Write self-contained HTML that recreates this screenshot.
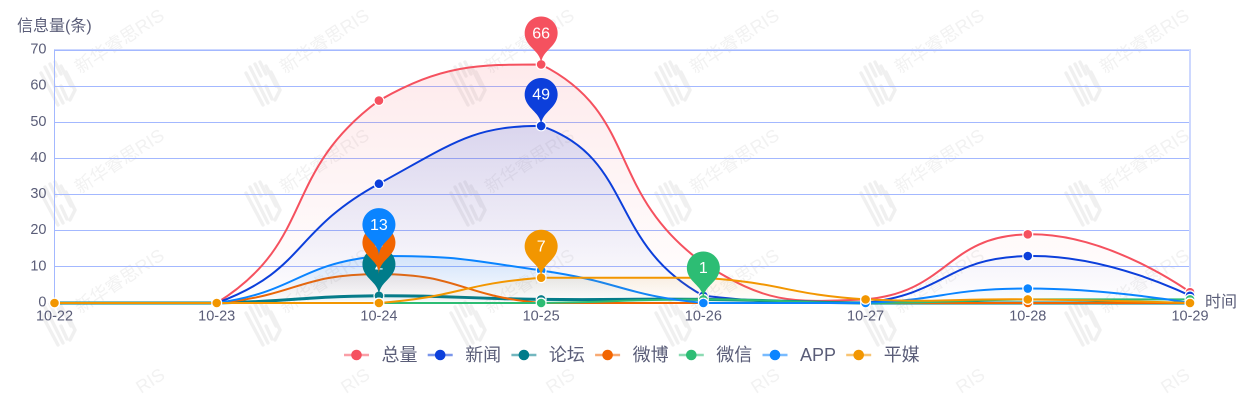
<!DOCTYPE html>
<html lang="zh">
<head>
<meta charset="utf-8">
<title>信息量趋势图</title>
<style>
html,body{margin:0;padding:0;background:#fff;width:1260px;height:400px;overflow:hidden}
svg{display:block}
text{font-family:"Liberation Sans","Noto Sans CJK SC",sans-serif}
</style>
</head>
<body>
<svg id="chart" xmlns="http://www.w3.org/2000/svg" width="1260" height="400" viewBox="0 0 1260 400">
  <defs>
    <g id="wm-logo">
      <g fill="none" stroke="#f0f0f0" stroke-width="3.4" stroke-linecap="round">
        <path d="M41 73 L58 105"/>
        <path d="M45 67 L63 103"/>
        <path d="M50 64 L56 76 M61 86 L67 99"/>
        <path d="M55 62 L61 74"/>
        <path d="M61 66 L71 86"/>
        <path d="M66 72 L75 90 L70 100"/>
      </g>
    </g>
  </defs>
  <g id="watermarks"></g>
  <g id="grid"></g>
  <g id="axes"></g>
  <g id="series"></g>
  <g id="pins"></g>
  <g id="legend"></g>
  <text x="17" y="31" font-size="16" fill="#5a5d78">信息量(条)</text>
  <text x="1205" y="307" font-size="16" fill="#5a5d78">时间</text>
</svg>
<script>
var categories = ['10-22','10-23','10-24','10-25','10-26','10-27','10-28','10-29'];
var yTicks = [0,10,20,30,40,50,60,70];
var seriesNames = ['总量','新闻','论坛','微博','微信','APP','平媒'];
var seriesKeys = ['total','news','forum','weibo','wechat','app','print'];
var seriesColors = ['#f5515f','#0c3fdb','#007c8a','#f26500','#2dbd74','#0a84ff','#f29600'];
var totalValues  = [0,0,56,66,11,1,19,3];
var newsValues   = [0,0,33,49,2,0,13,2];
var forumValues  = [0,0,2,1,1,0,0,0];
var weiboValues  = [0,0,8,0,0,0,0,0];
var wechatValues = [0,0,0,0,1,0,1,1];
var appValues    = [0,0,13,9,0,0,4,0];
var printValues  = [0,0,0,7,7,1,1,0];
var allValues = [totalValues,newsValues,forumValues,weiboValues,wechatValues,appValues,printValues];

var NS = 'http://www.w3.org/2000/svg';
var plotLeft = 54.5, plotRight = 1190, plotTop = 50, plotBottom = 303, yMax = 70;
var textColor = '#5a5d78';

function xScale(i){ return plotLeft + i * (plotRight - plotLeft) / (categories.length - 1); }
function yScale(v){ return plotBottom - v * (plotBottom - plotTop) / yMax; }
function make(tag, attrs, parent){
  var el = document.createElementNS(NS, tag);
  for (var k in attrs) el.setAttribute(k, attrs[k]);
  parent.appendChild(el);
  return el;
}
function maxIndex(arr){
  var m = 0;
  for (var i = 1; i < arr.length; i++) if (arr[i] > arr[m]) m = i;
  return m;
}
function smoothPath(pts){
  var s = 0.5;
  var ys = pts.map(function(p){ return p[1]; });
  var minY = Math.min.apply(null, ys), maxY = Math.max.apply(null, ys);
  var minX = pts[0][0], maxX = pts[pts.length-1][0];
  function cx(v){ return Math.max(minX, Math.min(maxX, v)); }
  function cy(v){ return Math.max(minY, Math.min(maxY, v)); }
  var d = 'M' + pts[0][0] + ' ' + pts[0][1];
  var c1 = [pts[0][0], pts[0][1]];
  for (var i = 1; i < pts.length; i++){
    var p = pts[i], c0, vx = 0, vy = 0, r = 0.5;
    if (i === pts.length - 1){ c0 = [p[0], p[1]]; }
    else {
      var a = pts[i-1], b = pts[i+1];
      vx = b[0]-a[0]; vy = b[1]-a[1];
      var lp = Math.hypot(p[0]-a[0], p[1]-a[1]), ln = Math.hypot(b[0]-p[0], b[1]-p[1]);
      r = ln / (ln + lp);
      c0 = [p[0] - vx*s*(1-r), p[1] - vy*s*(1-r)];
    }
    d += 'C' + cx(c1[0]) + ' ' + cy(c1[1]) + ' ' + cx(c0[0]) + ' ' + cy(c0[1]) + ' ' + p[0] + ' ' + p[1];
    c1 = [p[0] + vx*s*r, p[1] + vy*s*r];
  }
  return d;
}
function pinPath(x, y){
  var size = 55, w = size/5*3, h = size, r = w/2;
  var dy = r*r/(h-r), cy = y-h+r+dy, a = Math.asin(dy/r);
  var dx = Math.cos(a)*r, tx = Math.sin(a), ty = Math.cos(a), c1 = r*0.6, c2 = r*0.7;
  return 'M'+(x-dx)+' '+(cy+dy)+
    'A'+r+' '+r+' 0 1 1 '+(x+dx)+' '+(cy+dy)+
    'C'+(x+dx-tx*c1)+' '+(cy+dy+ty*c1)+' '+x+' '+(y-c2)+' '+x+' '+y+
    'C'+x+' '+(y-c2)+' '+(x-dx+tx*c1)+' '+(cy+dy+ty*c1)+' '+(x-dx)+' '+(cy+dy)+'Z';
}

/* watermark tiles */
var wmLayer = document.getElementById('watermarks');
for (var row = 0; row < 3; row++){
  for (var col = 0; col < 7; col++){
    var tx = col*205, ty = row*120;
    var tile = make('g', {transform:'translate('+tx+' '+ty+')'}, wmLayer);
    
    
    make('use', {href:'#wm-logo'}, tile);
    var wt = make('text', {transform:'translate(80 74) rotate(-33)', 'font-size':'18', fill:'#f2f2f2'}, tile);
    wt.textContent = '新华睿思RIS';
  }
}
for (var c2 = 0; c2 < 6; c2++){
  var tail = make('text', {transform:'translate(' + (141 + c2*205) + ' 394) rotate(-33)', 'font-size':'18', fill:'#f2f2f2'}, wmLayer);
  
  
  tail.textContent = 'RIS';
}

/* grid and y axis labels */
var gridLayer = document.getElementById('grid');
var axesLayer = document.getElementById('axes');
yTicks.forEach(function(v){
  var y = Math.floor(yScale(v)) + 0.5;
  var line = make('line', {x1:plotLeft, x2:plotRight, y1:y, y2:y, stroke:'#a3b8ff', 'stroke-width':1}, gridLayer);
  
  
  var lab = make('text', {x:46.5, y:yScale(v)-0.5, 'text-anchor':'end', 'dominant-baseline':'central', 'font-size':'14.5', fill:textColor}, axesLayer);
  
  
  lab.textContent = v;
});
var borderTop = make('line', {x1:plotLeft, x2:plotRight+1, y1:49.5, y2:49.5, stroke:'#cdd8ff', 'stroke-width':1}, gridLayer);


var borderRight = make('line', {x1:plotRight, x2:plotRight, y1:49, y2:plotBottom, stroke:'#cdd8ff', 'stroke-width':2}, gridLayer);


var axisLeft = make('line', {x1:plotLeft, x2:plotLeft, y1:49.5, y2:plotBottom, stroke:'#a3b8ff', 'stroke-width':1}, axesLayer);



categories.forEach(function(c, i){
  var lab = make('text', {x:xScale(i), y:316.5, 'text-anchor':'middle', 'dominant-baseline':'central', 'font-size':'14.5', fill:textColor}, axesLayer);
  
  
  lab.textContent = c;
});

/* series */
var defs = document.querySelector('defs');
var seriesLayer = document.getElementById('series');
var areaAlpha = [0.12,0.15,0.1,0.1,0.1,0.15,0.1];
var lineWidths = [2,2,3,2,2,2,2];
allValues.forEach(function(vals, s){
  var color = seriesColors[s], key = seriesKeys[s];
  var g = make('g', {}, seriesLayer);
  
  
  var gid = 'grad-' + key;
  var grad = make('linearGradient', {id:gid, gradientUnits:'userSpaceOnUse', x1:0, x2:0, y1:yScale(Math.max.apply(null, vals)), y2:plotBottom}, defs);
  make('stop', {offset:0, 'stop-color':color, 'stop-opacity':areaAlpha[s]}, grad);
  make('stop', {offset:1, 'stop-color':color, 'stop-opacity':0}, grad);
  var pts = vals.map(function(v, i){ return [xScale(i), yScale(v)]; });
  var d = smoothPath(pts);
  var area = make('path', {d:d + 'L' + xScale(vals.length-1) + ' ' + plotBottom + 'L' + xScale(0) + ' ' + plotBottom + 'Z', fill:'url(#' + gid + ')'}, g);
  
  
  var line = make('path', {d:d, fill:'none', stroke:color, 'stroke-width':lineWidths[s]}, g);
  
  
  vals.forEach(function(v, i){
    var dot = make('circle', {cx:xScale(i), cy:yScale(v), r:5.5, fill:'#fff'}, g);
    
    
    var dot2 = make('circle', {cx:xScale(i), cy:yScale(v), r:4.3, fill:color}, g);
    
    
  });
});

/* max pins */
var pinLayer = document.getElementById('pins');
allValues.forEach(function(vals, s){
  var i = maxIndex(vals), x = xScale(i), y = yScale(vals[i]);
  var g = make('g', {}, pinLayer);
  
  
  make('path', {d:pinPath(x, y), fill:seriesColors[s]}, g);
  var t = make('text', {x:x, y:y-30.7, 'text-anchor':'middle', 'dominant-baseline':'central', 'font-size':'16', fill:'#fff'}, g);
  t.textContent = vals[i];
});

/* legend */
var legendLayer = document.getElementById('legend');
var legendStart = 344, legendStep = 83.7, legendY = 355;
seriesNames.forEach(function(name, s){
  var x = legendStart + s*legendStep;
  var g = make('g', {}, legendLayer);
  
  
  make('line', {x1:x, x2:x+25, y1:legendY, y2:legendY, stroke:seriesColors[s], 'stroke-width':2.5, 'stroke-opacity':0.55}, g);
  make('circle', {cx:x+12.5, cy:legendY, r:5.3, fill:seriesColors[s]}, g);
  var t = make('text', {x:x+37.5, y:legendY, 'dominant-baseline':'central', 'font-size':'18', fill:textColor}, g);
  t.textContent = name;
});
</script>
</body>
</html>
